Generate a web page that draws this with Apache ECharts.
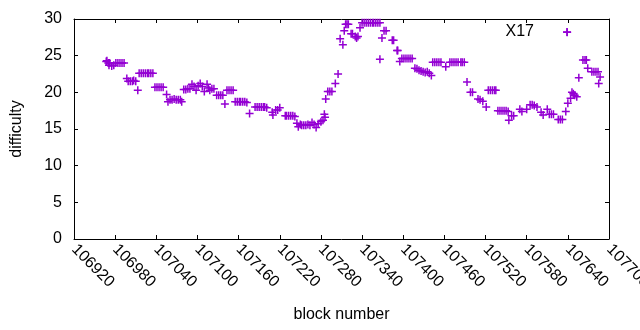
<!DOCTYPE html>
<html>
<head>
<meta charset="utf-8">
<script src="https://cdn.jsdelivr.net/npm/echarts@6/dist/echarts.min.js"></script>
<style>
  html, body { margin: 0; padding: 0; background: #fff; }
  #main { width: 640px; height: 330px; }
</style>
</head>
<body>
<div id="main"></div>
<script>
// block numbers and difficulty (one pair per mark)
var blocks = [
  106967, 106968, 106970, 106971, 106972, 106975, 106978, 106981, 106984, 106987, 106990, 106993,
  106997, 106999, 107002, 107005, 107007, 107010, 107013,
  107015, 107018, 107021, 107024, 107027, 107029, 107032, 107035,
  107038, 107041, 107044, 107047, 107050, 107055, 107057,
  107060, 107063, 107066, 107069, 107072, 107075, 107077,
  107080, 107083, 107086, 107089,
  107092, 107095, 107098, 107101, 107104, 107107, 107110, 107114, 107116, 107118,
  107121, 107124, 107128, 107131, 107134, 107137, 107140,
  107143, 107146, 107149, 107152,
  107155, 107158, 107161, 107163, 107166, 107169, 107172, 107176,
  107184, 107187, 107190, 107193, 107196, 107198, 107201,
  107209, 107210, 107214, 107217, 107220,
  107228, 107230, 107233, 107236, 107239, 107242, 107245, 107247,
  107250, 107252, 107255, 107258, 107261, 107264,
  107267, 107270, 107273, 107276, 107280, 107283, 107285, 107286, 107287,
  107290, 107293, 107296, 107301, 107305,
  107308, 107312, 107314, 107316, 107318, 107320,
  107324, 107326, 107330, 107332, 107334, 107337,
  107340, 107343, 107346, 107349, 107352, 107355, 107357, 107360, 107363, 107366,
  107366, 107369, 107372, 107375, 107384, 107386, 107391, 107392, 107395,
  107398, 107401, 107404, 107407, 107410, 107413,
  107417, 107420, 107423, 107426, 107429, 107432, 107435, 107438, 107441,
  107443, 107446, 107449, 107452, 107455, 107462,
  107468, 107471, 107474, 107477, 107480, 107484, 107486, 107489,
  107493, 107498, 107501, 107509, 107512, 107516, 107521,
  107524, 107527, 107530, 107533, 107535,
  107538, 107541, 107544, 107547, 107550, 107553,
  107554, 107558, 107561,
  107570, 107573, 107580, 107585, 107588, 107591, 107595,
  107601, 107604, 107610, 107613, 107616, 107619,
  107626, 107629, 107632,
  107637, 107639, 107640, 107644, 107646, 107648, 107650, 107653,
  107656, 107662, 107665, 107667, 107669,
  107675, 107678, 107681, 107684, 107685, 107687
];
var difficulty = [
  24.2, 24.3, 24.0, 23.7, 24.0, 23.6, 23.7, 24.0, 24.0, 24.0, 24.0, 24.0,
  21.9, 21.5, 21.5, 21.5, 21.6, 21.5, 20.3,
  22.6, 22.6, 22.6, 22.6, 22.6, 22.6, 22.6, 22.6,
  20.7, 20.7, 20.7, 20.7, 20.7, 19.7, 18.7,
  19.0, 19.0, 19.1, 19.0, 19.0, 19.0, 18.7,
  20.4, 20.4, 20.5, 20.5,
  21.1, 20.8, 20.3, 20.9, 21.2, 20.8, 20.1, 21.1, 20.6, 20.3,
  20.5, 20.5, 19.6, 19.6, 19.6, 19.6, 18.4,
  20.3, 20.3, 20.3, 20.3,
  18.7, 18.7, 18.7, 18.7, 18.7, 18.7, 18.6, 17.1,
  18.0, 18.0, 18.0, 18.0, 18.0, 18.0, 17.9,
  17.3, 16.9, 17.6, 17.6, 17.9,
  16.8, 16.8, 16.8, 16.8, 16.8, 16.7, 15.8, 15.3,
  15.6, 15.5, 15.5, 15.5, 15.6, 15.5,
  15.9, 15.6, 15.2, 15.7, 16.0, 16.2, 17.0, 16.6, 19.1,
  20.1, 20.1, 20.1, 21.2, 22.5,
  27.3, 26.5, 28.4, 29.3, 29.3, 29.3,
  28.0, 28.0, 27.6, 27.4, 27.6, 28.8,
  29.5, 29.5, 29.5, 29.5, 29.5, 29.5, 29.5, 29.5, 29.5, 29.5,
  24.5, 27.4, 28.4, 28.4, 27.1, 27.1, 25.7, 25.7, 24.2,
  24.6, 24.6, 24.6, 24.6, 24.6, 24.6,
  23.3, 23.2, 23.0, 22.9, 22.8, 22.7, 22.8, 22.6, 22.3,
  24.1, 24.1, 24.1, 24.1, 24.1, 23.5,
  24.1, 24.1, 24.1, 24.1, 24.1, 24.1, 24.1, 24.1,
  21.4, 20.0, 20.0, 19.1, 19.0, 18.8, 18.0,
  20.3, 20.3, 20.3, 20.3, 20.3,
  17.5, 17.5, 17.5, 17.5, 17.5, 17.4,
  16.2, 16.8, 16.8,
  17.7, 17.4, 17.7, 18.3, 18.3, 18.2, 18.0,
  17.3, 16.9, 17.7, 17.0, 17.0, 17.0,
  16.3, 16.3, 16.3,
  17.4, 28.2, 18.5, 19.2, 20.0, 19.8, 19.6, 19.4,
  22.0, 24.4, 24.4, 24.4, 23.3,
  22.8, 22.8, 22.8, 22.8, 21.2, 22.1
];
var xTicks = [106920, 107700, 60];
var yTicks = [0, 30, 5];

var myChart = echarts.init(document.getElementById('main'));

var plus = 'path://M3.25,0H4.75V3.25H8V4.75H4.75V8H3.25V4.75H0V3.25H3.25Z';
var font = 'Liberation Sans';
var purple = '#9400d3';

var points = [];
for (var i = 0; i < blocks.length; i++)
{
    points.push([blocks[i], difficulty[i]]);
}

function axisBase(extra)
{
    var base = {
        axisLine: { show: true, onZero: false, lineStyle: { color: '#000', width: 1 } },
        axisTick: { show: true, inside: true, length: 4, lineStyle: { color: '#000' } },
        splitLine: { show: false },
        axisLabel: { show: false }
    };
    for (var k in extra) base[k] = extra[k];
    return base;
}

var option = {
    animation: false,
    grid: { left: 74, right: 31, top: 19, bottom: 91, outerBoundsMode: 'none', containLabel: false },
    legend: {
        right: 69,
        top: 24,
        padding: 0,
        align: 'right',
        itemWidth: 8,
        itemHeight: 8,
        data: [{ name: 'X17', icon: plus }],
        textStyle: { fontFamily: font, fontSize: 16, color: '#000', padding: [0, 24, 0, 0] }
    },
    xAxis: [
        axisBase({
            type: 'value', position: 'bottom',
            min: xTicks[0], max: xTicks[1], interval: xTicks[2],
            name: 'block number', nameLocation: 'middle', nameGap: 68,
            nameTextStyle: { fontFamily: font, fontSize: 16, color: '#000' },
            axisLabel: {
                show: true, color: '#000', fontFamily: font, fontSize: 16,
                rotate: -45, margin: 8, showMaxLabel: true, showMinLabel: true,
                formatter: function (v) { return String(v); }
            }
        }),
        axisBase({
            type: 'value', position: 'top',
            min: xTicks[0], max: xTicks[1], interval: xTicks[2]
        })
    ],
    yAxis: [
        axisBase({
            type: 'value', position: 'left',
            min: yTicks[0], max: yTicks[1], interval: yTicks[2],
            name: 'difficulty', nameLocation: 'middle', nameGap: 49,
            nameTextStyle: { fontFamily: font, fontSize: 16, color: '#000' },
            axisLabel: { show: true, color: '#000', fontFamily: font, fontSize: 16, margin: 12 }
        }),
        axisBase({
            type: 'value', position: 'right',
            min: yTicks[0], max: yTicks[1], interval: yTicks[2]
        })
    ],
    series: [{
        name: 'X17',
        type: 'scatter',
        symbol: plus,
        symbolSize: 8,
        itemStyle: { color: purple, opacity: 1 },
        data: points
    }]
};

myChart.setOption(option);
</script>
</body>
</html>
